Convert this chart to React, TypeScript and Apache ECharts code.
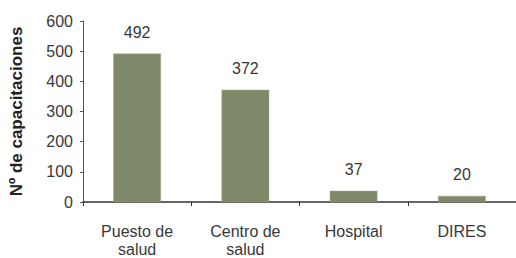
import React, { useEffect, useRef } from "react";
import * as echarts from "echarts";

const categories = ["Puesto de\nsalud", "Centro de\nsalud", "Hospital", "DIRES"];
const values = [492, 372, 37, 20];
const yTicks = { min: 0, max: 600, interval: 100 };

export default function App() {
  const ref = useRef<HTMLDivElement>(null);
  useEffect(() => {
    const chart = echarts.init(ref.current!, null, { renderer: "svg" });
    chart.setOption({
      animation: false,
      textStyle: { fontFamily: "Liberation Sans" },
      grid: { left: 83, top: 21, width: 435, height: 183 },
      xAxis: {
        type: "category",
        data: categories,
        axisLine: { lineStyle: { color: "#333", width: 1.5 } },
        axisTick: { show: true, length: 4, lineStyle: { color: "#333" } },
        axisLabel: { color: "#383838", fontSize: 16, margin: 20, lineHeight: 18, fontFamily: "Liberation Sans" },
      },
      yAxis: {
        type: "value",
        min: yTicks.min,
        max: yTicks.max,
        interval: yTicks.interval,
        name: "Nº de capacitaciones",
        nameLocation: "middle",
        nameGap: 58,
        nameTextStyle: { color: "#222", fontSize: 17, fontWeight: "bold", fontFamily: "Liberation Sans" },
        splitLine: { show: false },
        axisLine: { show: true, lineStyle: { color: "#555" } },
        axisTick: { show: true, length: 3, lineStyle: { color: "#555" } },
        axisLabel: { color: "#383838", fontSize: 16, margin: 10, fontFamily: "Liberation Sans" },
      },
      series: [
        {
          type: "bar",
          data: values,
          barWidth: "44%",
          itemStyle: { color: "#7e8a69", borderColor: "#9aa487", borderWidth: 0.5 },
          label: {
            show: true,
            position: "top",
            distance: 13,
            color: "#383838",
            fontSize: 16,
            fontFamily: "Liberation Sans",
          },
        },
      ],
    });
    return () => chart.dispose();
  }, []);
  return <div ref={ref} style={{ width: 516, height: 258, position: "absolute", left: 0, top: 0 }} />;
}
